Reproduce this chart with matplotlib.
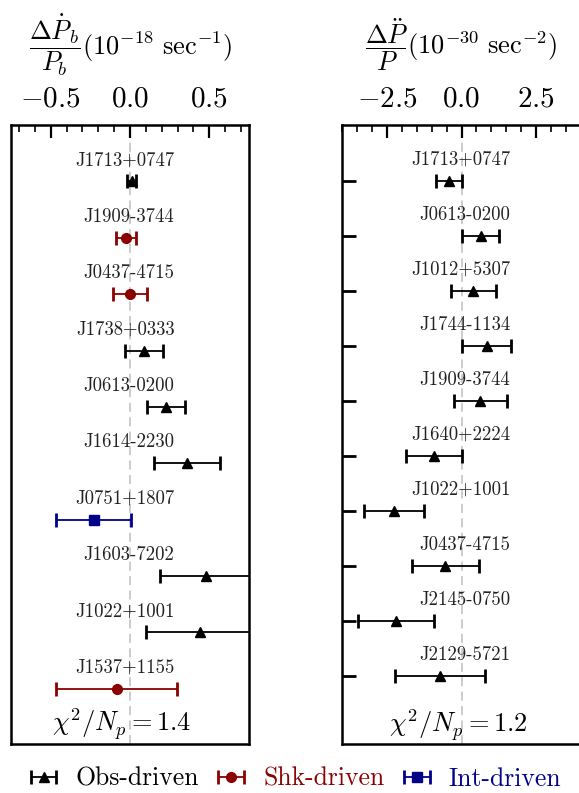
import matplotlib
matplotlib.use('Agg')
import matplotlib.pyplot as plt
from matplotlib.ticker import MultipleLocator

plt.rcParams.update({
    'font.family': 'serif',
    'font.serif': ['cmr10'],
    'mathtext.fontset': 'cm',
    'axes.formatter.use_mathtext': True,
    'axes.unicode_minus': True,
})

# Left panel: orbital period derivative residuals
pb_names = ['J1713+0747', 'J1909-3744', 'J0437-4715', 'J1738+0333', 'J0613-0200',
            'J1614-2230', 'J0751+1807', 'J1603-7202', 'J1022+1001', 'J1537+1155']
pb_vals = [0.01, -0.025, 0.0, 0.09, 0.225, 0.36, -0.23, 0.48, 0.44, -0.085]
pb_errs = [0.03, 0.063, 0.11, 0.12, 0.12, 0.21, 0.235, 0.29, 0.34, 0.383]
pb_kind = ['obs', 'shk', 'shk', 'obs', 'obs', 'obs', 'int', 'obs', 'obs', 'shk']

# Right panel: second spin period derivative residuals
pdd_names = ['J1713+0747', 'J0613-0200', 'J1012+5307', 'J1744-1134', 'J1909-3744',
             'J1640+2224', 'J1022+1001', 'J0437-4715', 'J2145-0750', 'J2129-5721']
pdd_vals = [-0.42, 0.65, 0.40, 0.84, 0.63, -0.92, -2.27, -0.54, -2.20, -0.72]
pdd_errs = [0.45, 0.62, 0.75, 0.81, 0.88, 0.95, 1.00, 1.13, 1.28, 1.49]

STYLE = {
    'obs': dict(color='black', marker='^', label='Obs-driven'),
    'shk': dict(color='#8B0000', marker='o', label='Shk-driven'),
    'int': dict(color='#00008B', marker='s', label='Int-driven'),
}

fig = plt.figure(figsize=(5.79, 7.93), dpi=100)
ax1 = fig.add_axes([11 / 579, 49 / 793, 238 / 579, 619 / 793])
ax2 = fig.add_axes([342 / 579, 49 / 793, 239 / 579, 619 / 793])

eb_kw = dict(markersize=7, capsize=5, capthick=2, elinewidth=1.3, linestyle='none')

handles = {}
rows = range(1, len(pb_names) + 1)
for y, name, v, e, k in zip(rows, pb_names, pb_vals, pb_errs, pb_kind):
    st = STYLE[k]
    h = ax1.errorbar(v, y, xerr=e, color=st['color'], marker=st['marker'], **eb_kw)
    handles.setdefault(k, h)
    ax1.text(0.28, y - 0.37, name, ha='right', va='center', fontsize=13.5, color='#222222')

for y, name, v, e in zip(rows, pdd_names, pdd_vals, pdd_errs):
    ax2.errorbar(v, y, xerr=e, color='black', marker='^', **eb_kw)
    ax2.text(1.64, y - 0.38, name, ha='right', va='center', fontsize=13.5, color='#222222')

ax1.set_xlim(-0.75, 0.75)
ax1.set_ylim(10.98, 0)
ax2.set_xlim(-4, 4)
ax2.set_ylim(11.23, -0.01)

ax1.xaxis.set_major_locator(MultipleLocator(0.5))
ax1.xaxis.set_minor_locator(MultipleLocator(0.1))
ax2.xaxis.set_major_locator(MultipleLocator(2.5))
ax2.xaxis.set_minor_locator(MultipleLocator(0.5))

ax1.set_yticks([])
ax2.set_yticks(list(rows))
ax2.set_yticklabels([])

for ax in (ax1, ax2):
    ax.axvline(0, color='#c8c8c8', linestyle=(0, (5, 3)), lw=1.3, zorder=0)
    ax.xaxis.tick_top()
    ax.xaxis.set_label_position('top')
    ax.tick_params(axis='x', which='major', direction='in', length=9.5, width=1.6,
                   labelsize=21, pad=9)
    ax.tick_params(axis='x', which='minor', direction='in', length=5, width=1.2)
    ax.tick_params(axis='y', which='major', direction='in', length=10, width=2)
    for sp in ax.spines.values():
        sp.set_linewidth(1.8)

ax1.set_xlabel(r'$\dfrac{\Delta \dot{P}_b}{P_b}(10^{-18}\ \mathrm{sec}^{-1})$',
               fontsize=19, labelpad=23)
ax2.set_xlabel(r'$\dfrac{\Delta \ddot{P}}{P}(10^{-30}\ \mathrm{sec}^{-2})$',
               fontsize=19, labelpad=23)

ax1.text(-0.05, 10.62, r'$\chi^2/N_p = 1.4$', ha='center', va='center', fontsize=19)
ax2.text(-0.1, 10.88, r'$\chi^2/N_p = 1.2$', ha='center', va='center', fontsize=19)

keys = ['obs', 'shk', 'int']
leg = fig.legend([handles[k] for k in keys], [STYLE[k]['label'] for k in keys],
                 loc='center', bbox_to_anchor=(0.508, 14 / 793), ncol=3,
                 frameon=False, fontsize=18.5, handlelength=1.3, handletextpad=0.6,
                 columnspacing=0.6, borderpad=0)
for txt, k in zip(leg.get_texts(), keys):
    txt.set_color(STYLE[k]['color'])

fig.savefig('out.png', dpi=100)
